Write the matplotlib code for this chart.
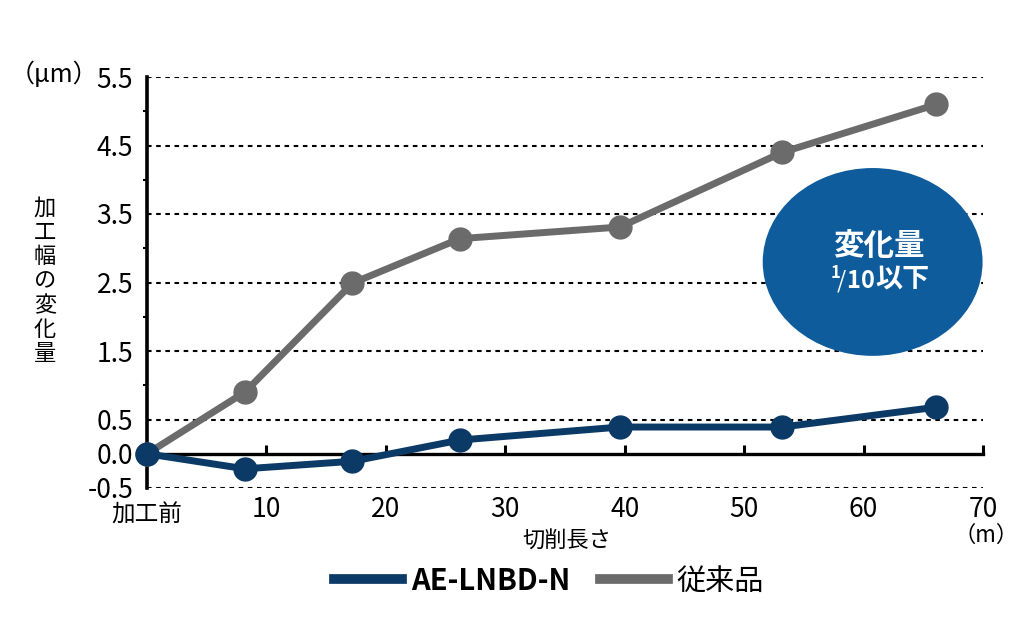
import matplotlib
matplotlib.use('Agg')
import matplotlib.pyplot as plt
from matplotlib.patches import Ellipse
from matplotlib.lines import Line2D

plt.rcParams['font.family'] = ['Noto Sans CJK JP', 'DejaVu Sans']
plt.rcParams['mathtext.fontset'] = 'custom'
plt.rcParams['mathtext.rm'] = 'Noto Sans CJK JP'
plt.rcParams['mathtext.bf'] = 'Noto Sans CJK JP:bold'

# ---- data ----
cut_length = [0, 8.2, 17.2, 26.2, 39.6, 53.2, 66.1]
ae_lnbd_n = [0.0, -0.22, -0.11, 0.20, 0.39, 0.39, 0.68]
conventional = [0.0, 0.90, 2.49, 3.14, 3.31, 4.40, 5.10]
series_names = ['AE-LNBD-N', '従来品']
y_ticks = [-0.5, 0.0, 0.5, 1.5, 2.5, 3.5, 4.5, 5.5]
y_tick_labels = ['-0.5', '0.0', '0.5', '1.5', '2.5', '3.5', '4.5', '5.5']
y_minor = [1, 2, 3, 4, 5]
x_ticks = [0, 10, 20, 30, 40, 50, 60, 70]
x_tick_labels = ['加工前', '10', '20', '30', '40', '50', '60', '70']

BLUE = '#0b3a66'
GRAY = '#6b6b6b'
ELLIPSE_C = '#0f5c9c'

W, H = 1024, 638
fig = plt.figure(figsize=(W / 100, H / 100), dpi=100)
ax = fig.add_axes([147 / W, 1 - 488 / H, 836 / W, 411 / H])
ax.set_xlim(0, 70)
ax.set_ylim(-0.5, 5.5)

for v in y_ticks:
    if v != 0:
        ax.axhline(v, color='black', lw=1.5, ls=(0, (2.2, 2.2)), zorder=1)

ax.plot(cut_length, conventional, color=GRAY, lw=5, marker='o', ms=16.5,
        zorder=3, clip_on=False)
ax.plot(cut_length, ae_lnbd_n, color=BLUE, lw=5, marker='o', ms=16.5,
        zorder=4, clip_on=False)

ax.spines['top'].set_visible(False)
ax.spines['right'].set_visible(False)
ax.spines['left'].set_linewidth(2.6)
ax.spines['bottom'].set_position(('data', 0))
ax.spines['bottom'].set_linewidth(2.4)
ax.spines['bottom'].set_zorder(2)

ax.set_xticks(x_ticks)
ax.tick_params(axis='x', direction='in', length=6.5, width=2.2,
               labelbottom=False)
xt = ax.get_xaxis_transform()
for xv, lab in zip(x_ticks, x_tick_labels):
    if xv == 0:
        ax.text(xv, -0.066, lab, transform=xt, ha='center', va='center',
                fontsize=17)
    else:
        ax.text(xv, -0.053, lab, transform=xt, ha='center', va='center',
                fontsize=19)

ax.set_yticks(y_ticks)
ax.set_yticklabels(y_tick_labels)
ax.tick_params(axis='y', which='major', length=0, pad=10, labelsize=19)
ax.set_yticks(y_minor, minor=True)
ax.tick_params(axis='y', which='minor', length=3, width=1.5, direction='out')

# ellipse callout
ell = Ellipse((0.868, 0.55), 0.263, 0.457, transform=ax.transAxes,
              facecolor=ELLIPSE_C, edgecolor='none', zorder=5)
ax.add_patch(ell)


def fx(px):
    return px / W


def fy(py):
    return 1 - py / H


fig.text(fx(879), fy(246), '変化量', color='white', fontsize=22,
         fontweight='bold', ha='center', va='center', zorder=6)
fig.text(fx(875), fy(280), r'$^{\mathbf{1}}\!/\mathbf{10}$', color='white',
         fontsize=17, ha='right', va='center', zorder=6)
fig.text(fx(875), fy(279), '以下', color='white', fontsize=19.5,
         fontweight='bold', ha='left', va='center', zorder=6)

# axis labels
fig.text(fx(54), fy(75), '（μm）', fontsize=18, ha='center', va='center')
fig.text(fx(45), fy(281), '加\n工\n幅\nの\n変\n化\n量', fontsize=16,
         ha='center', va='center', linespacing=1.07)
fig.text(fx(567), fy(541), '切削長さ', fontsize=16, ha='center', va='center')
fig.text(fx(986), fy(535), '（m）', fontsize=16, ha='center', va='center')

handles = [Line2D([], [], color=BLUE, lw=7), Line2D([], [], color=GRAY, lw=7)]
leg = fig.legend(handles, series_names, loc='center',
                 bbox_to_anchor=(fx(549), fy(581)), ncol=2, frameon=False,
                 prop={'size': 21, 'weight': 'bold'}, handlelength=2.35,
                 handletextpad=0.3, columnspacing=1.0)
leg.get_texts()[1].set_fontweight('normal')

fig.savefig('out.png', dpi=100)
